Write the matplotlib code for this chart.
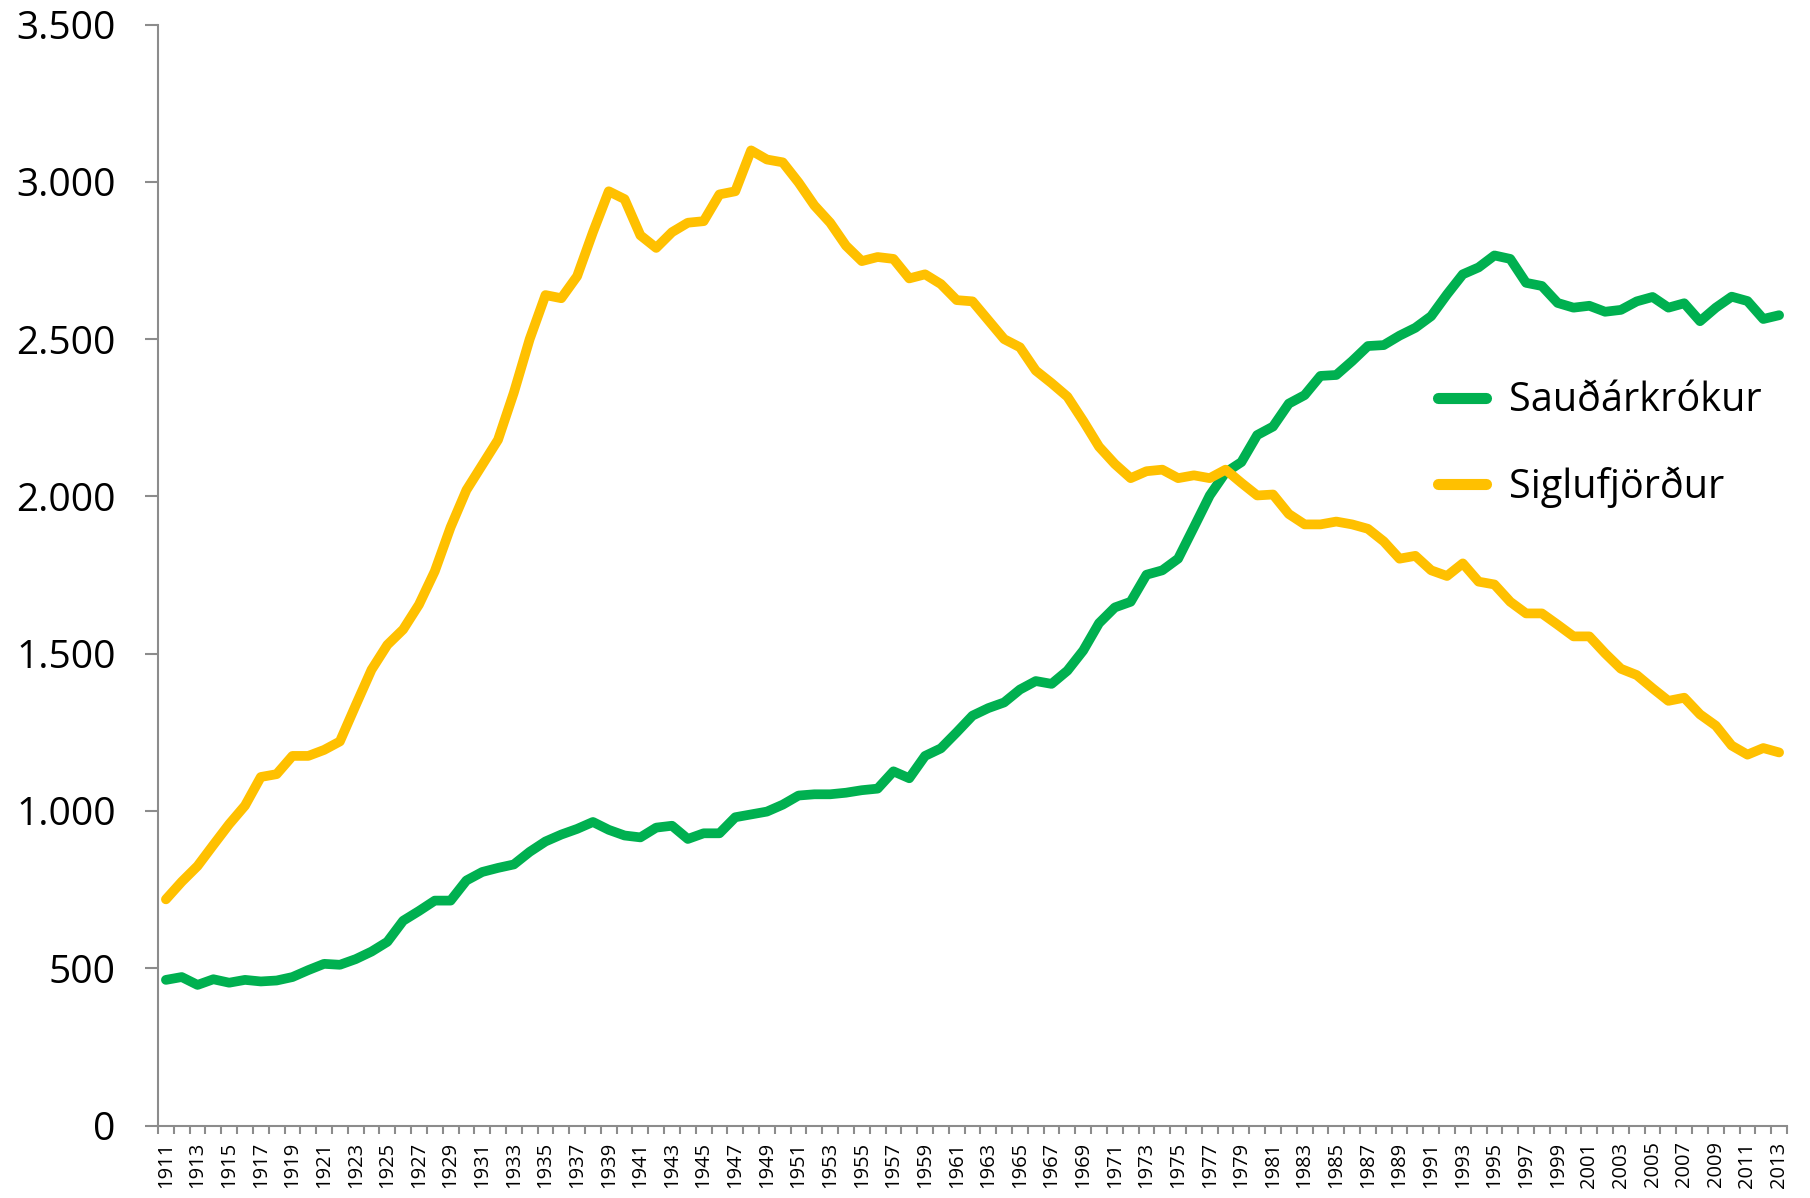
import numpy as np
from matplotlib import pyplot as plt

plt.rcParams['font.family'] = ['Open Sans', 'DejaVu Sans']

# Íbúafjöldi 1911-2013
years = np.arange(1911, 2014)

saudarkrokur = [
    463, 472, 447, 465, 454, 463, 458, 461, 472, 494,   # 1911-1920
    514, 511, 529, 553, 584, 651, 682, 715, 715, 779,   # 1921-1930
    806, 819, 830, 870, 903, 925, 943, 965, 940, 922,   # 1931-1940
    916, 947, 953, 911, 929, 929, 980, 989, 998, 1020,  # 1941-1950
    1049, 1053, 1053, 1058, 1066, 1071, 1126, 1104, 1175, 1199,  # 1951-1960
    1250, 1303, 1327, 1345, 1386, 1413, 1404, 1446, 1510, 1597,  # 1961-1970
    1647, 1665, 1751, 1765, 1802, 1902, 2003, 2076, 2109, 2195,  # 1971-1980
    2222, 2295, 2322, 2383, 2386, 2430, 2478, 2481, 2511, 2536,  # 1981-1990
    2573, 2642, 2706, 2728, 2766, 2755, 2679, 2669, 2615, 2600,  # 1991-2000
    2606, 2587, 2593, 2620, 2634, 2600, 2614, 2557, 2600, 2635,  # 2001-2010
    2621, 2564, 2576,                                            # 2011-2013
]

siglufjordur = [
    719, 775, 825, 892, 958, 1017, 1108, 1117, 1175, 1175,       # 1911-1920
    1194, 1221, 1336, 1449, 1528, 1577, 1656, 1762, 1902, 2020,  # 1921-1930
    2100, 2180, 2330, 2500, 2640, 2630, 2700, 2840, 2970, 2945,  # 1931-1940
    2830, 2790, 2840, 2870, 2875, 2960, 2970, 3100, 3071, 3062,  # 1941-1950
    2998, 2925, 2870, 2797, 2748, 2761, 2755, 2693, 2706, 2675,  # 1951-1960
    2624, 2620, 2560, 2500, 2474, 2400, 2360, 2317, 2240, 2158,  # 1961-1970
    2103, 2058, 2080, 2085, 2058, 2067, 2058, 2085, 2043, 2003,  # 1971-1980
    2006, 1944, 1911, 1911, 1920, 1911, 1897, 1857, 1802, 1811,  # 1981-1990
    1765, 1747, 1787, 1729, 1720, 1665, 1628, 1628, 1592, 1555,  # 1991-2000
    1555, 1501, 1452, 1432, 1390, 1350, 1360, 1307, 1271, 1208,  # 2001-2010
    1179, 1200, 1186,                                            # 2011-2013
]

green = '#00B050'
yellow = '#FFC000'
axis_grey = '#8C8C8C'

fig = plt.figure(figsize=(18.10, 11.98), dpi=100)
ax = fig.add_axes([0.0873, 0.0605, 0.9, 0.919])

ax.plot(years, saudarkrokur, color=green, lw=7, label='Sauðárkrókur',
        solid_joinstyle='round', solid_capstyle='round')
ax.plot(years, siglufjordur, color=yellow, lw=7, label='Siglufjörður',
        solid_joinstyle='round', solid_capstyle='round')

ax.set_xlim(years[0] - 0.5, years[-1] + 0.5)
ax.set_ylim(0, 3500)

# y-ás
yticks = np.arange(0, 3501, 500)
ax.set_yticks(yticks)
ax.set_yticklabels([f'{v:,}'.replace(',', '.') for v in yticks], fontsize=28)
ax.tick_params(axis='y', length=9.4, width=1.5, color=axis_grey, pad=21)

# x-ás: strik milli flokka, ártal á öðru hverju ári
ax.set_xticks(np.arange(years[0] - 0.5, years[-1] + 1, 1))
ax.set_xticklabels([])
ax.set_xticks(years[::2], minor=True)
ax.set_xticklabels([str(y) for y in years[::2]], minor=True, rotation=90,
                   fontsize=14.5)
ax.tick_params(axis='x', which='major', length=6, width=1.5, color=axis_grey)
ax.tick_params(axis='x', which='minor', length=0, pad=11.5)

for side in ['top', 'right']:
    ax.spines[side].set_visible(False)
for side in ['left', 'bottom']:
    ax.spines[side].set_color(axis_grey)
    ax.spines[side].set_linewidth(1.5)

leg = ax.legend(loc='center left', bbox_to_anchor=(0.7942, 0.6290),
                bbox_transform=fig.transFigure, frameon=False, fontsize=28.5,
                borderpad=0, borderaxespad=0, handlelength=1.23,
                handletextpad=0.57, labelspacing=1.14)
for line in leg.get_lines():
    line.set_linewidth(8)
    line.set_solid_capstyle('round')

plt.savefig('out.png', dpi=100)
